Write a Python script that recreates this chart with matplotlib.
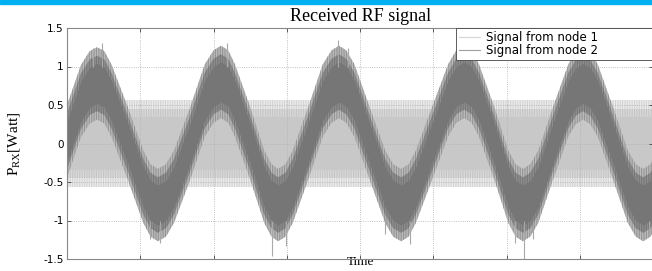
import matplotlib
matplotlib.use("Agg")
import matplotlib.pyplot as plt
from matplotlib.lines import Line2D
from matplotlib.patches import Rectangle

# ---------------- data ----------------
# time axis in tick units (8 unlabeled intervals)
t_node2 = [-0.07, -0.01, 0.19, 0.31, 0.41, 0.51, 0.61, 0.83, 1.04, 1.14,
           1.24, 1.35, 1.46, 1.68, 1.88, 2.00, 2.10, 2.20, 2.29, 2.50,
           2.69, 2.79, 2.88, 2.98, 3.08, 3.29, 3.49, 3.61, 3.71, 3.81,
           3.92, 4.13, 4.34, 4.45, 4.56, 4.66, 4.76, 4.98, 5.20, 5.31,
           5.42, 5.52, 5.62, 5.83, 6.02, 6.12, 6.22, 6.32, 6.43, 6.63,
           6.84, 6.94, 7.04, 7.14, 7.24, 7.45, 7.65, 7.76, 7.86, 7.96, 8.06]
# centre line of the node-2 signal (sinusoid + noise)
node2_center = [-0.15, 0.00, 0.55, 0.73, 0.78, 0.73, 0.55, 0.00, -0.56, -0.74,
                -0.80, -0.74, -0.56, 0.00, 0.56, 0.74, 0.80, 0.74, 0.56, 0.00,
                -0.56, -0.74, -0.80, -0.74, -0.56, 0.00, 0.56, 0.74, 0.80, 0.74,
                0.56, 0.00, -0.56, -0.74, -0.80, -0.74, -0.56, 0.00, 0.56, 0.74,
                0.80, 0.74, 0.56, 0.00, -0.56, -0.74, -0.80, -0.74, -0.56, 0.00,
                0.56, 0.72, 0.78, 0.72, 0.56, 0.00, -0.56, -0.74, -0.80, -0.74, -0.56]
# noise half-widths around the centre (dense core, spiky fringe, sparse spikes)
node2_core_hw = 0.26
node2_mid_hw = 0.36
node2_spike_hw = 0.47

# node-1 signal: pure noise around zero
t_node1 = [-0.1, 8.1]
node1_center = [0.0, 0.0]
node1_core_hw = 0.34
node1_mid_hw = 0.45
node1_spike_hw = 0.57

# isolated tall spikes of node 2
spike_t = [0.36, 0.48, 1.13, 1.27, 2.18, 2.80, 2.99, 3.70, 3.84, 4.34,
           4.68, 6.11, 6.23, 6.36, 7.94]
spike_base = [1.0, 1.0, -1.0, -1.0, 1.0, -1.0, -1.0, 1.0, 1.0, -0.95,
              -1.0, -1.0, -1.0, -1.0, -1.0]
spike_tip = [1.24, 1.31, -1.24, -1.29, 1.30, -1.46, -1.33, 1.34, 1.24, -1.18,
             -1.30, -1.29, -1.50, -1.24, -1.20]

y_ticks = [-1.5, -1, -0.5, 0, 0.5, 1, 1.5]
y_ticklabels = ["-1.5", "-1", "-0.5", "0", "0.5", "1", "1.5"]
x_ticks = [0, 1, 2, 3, 4, 5, 6, 7, 8]
legend_labels = ["Signal from node 1", "Signal from node 2"]
title = "Received RF signal"
xlabel = "Time"
ylabel = r"$\mathregular{P_{RX}[Watt]}$"

# ---------------- drawing ----------------
plt.rcParams["hatch.linewidth"] = 0.8
W, H = 652, 271
fig = plt.figure(figsize=(W / 100, H / 100), dpi=100)
fig.patches.append(Rectangle((0, 1 - 3.5 / H), 1, 3.5 / H, transform=fig.transFigure,
                             color="#00b0f0", zorder=10))

ax = fig.add_axes([67 / W, 12 / H, (653.4 - 67) / W, 231 / H])


def band(c, hw):
    lo = [v - hw for v in c]
    hi = [v + hw for v in c]
    return lo, hi


# node 1 (light)
lo, hi = band(node1_center, node1_spike_hw)
ax.fill_between(t_node1, lo, hi, facecolor="#ececec", edgecolor="#d4d4d4",
                hatch="|||||||", lw=0, zorder=2)
lo, hi = band(node1_center, node1_mid_hw)
ax.fill_between(t_node1, lo, hi, facecolor="#d8d8d8", edgecolor="#c6c6c6",
                hatch="|||||||", lw=0, zorder=2)
lo, hi = band(node1_center, node1_core_hw)
ax.fill_between(t_node1, lo, hi, color="#c8c8c8", lw=0, zorder=2)

# node 2 (dark)
lo, hi = band(node2_center, node2_spike_hw)
ax.fill_between(t_node2, lo, hi, facecolor="#bcbcbc", edgecolor="#949494",
                hatch="|||||||", lw=0, zorder=3)
lo, hi = band(node2_center, node2_mid_hw)
ax.fill_between(t_node2, lo, hi, facecolor="#8e8e8e", edgecolor="#777777",
                hatch="|||||||", lw=0, zorder=3)
lo, hi = band(node2_center, node2_core_hw)
ax.fill_between(t_node2, lo, hi, color="#767676", lw=0, zorder=3)
ax.vlines(spike_t, spike_base, spike_tip, color="#a8a8a8", lw=0.8, zorder=3)

ax.set_xlim(0, 8)
ax.set_ylim(-1.5, 1.5)
ax.set_xticks(x_ticks)
ax.set_xticklabels([])
ax.set_yticks(y_ticks)
ax.set_yticklabels(y_ticklabels, fontsize=7.5, family="DejaVu Sans")
ax.tick_params(direction="in", length=3, width=0.6, top=True, right=True,
               color="#444444", pad=2.5)
ax.grid(True, ls=":", color="#b0b0b0", lw=0.6, zorder=1)
ax.set_axisbelow(False)
for s in ax.spines.values():
    s.set_color("#888888")
    s.set_linewidth(0.8)
    s.set_zorder(5)

ax.set_title(title, family="Liberation Serif", fontsize=13, pad=5)
ax.set_xlabel(xlabel, family="Liberation Serif", fontsize=9.5)
ax.xaxis.set_label_coords(0.5, 3.0 / 231)
ax.set_ylabel(ylabel, family="Liberation Serif", fontsize=11, labelpad=15)

handles = [Line2D([], [], color="#d4d4d4", lw=0.8),
           Line2D([], [], color="#a0a0a0", lw=0.8)]
x0 = (456 - 67) / (653.4 - 67)
leg = ax.legend(handles, legend_labels, loc="upper left", mode="expand",
                bbox_to_anchor=(x0, 0, 1.2 - x0, 1.0), borderaxespad=0,
                prop={"family": "DejaVu Sans", "size": 8.5}, handlelength=1.8,
                handletextpad=0.5, labelspacing=0.0, borderpad=0.25,
                fancybox=False, framealpha=1)
leg.get_frame().set_edgecolor("#444444")
leg.get_frame().set_linewidth(0.6)
leg.set_zorder(6)

fig.savefig("out.png", dpi=100)
